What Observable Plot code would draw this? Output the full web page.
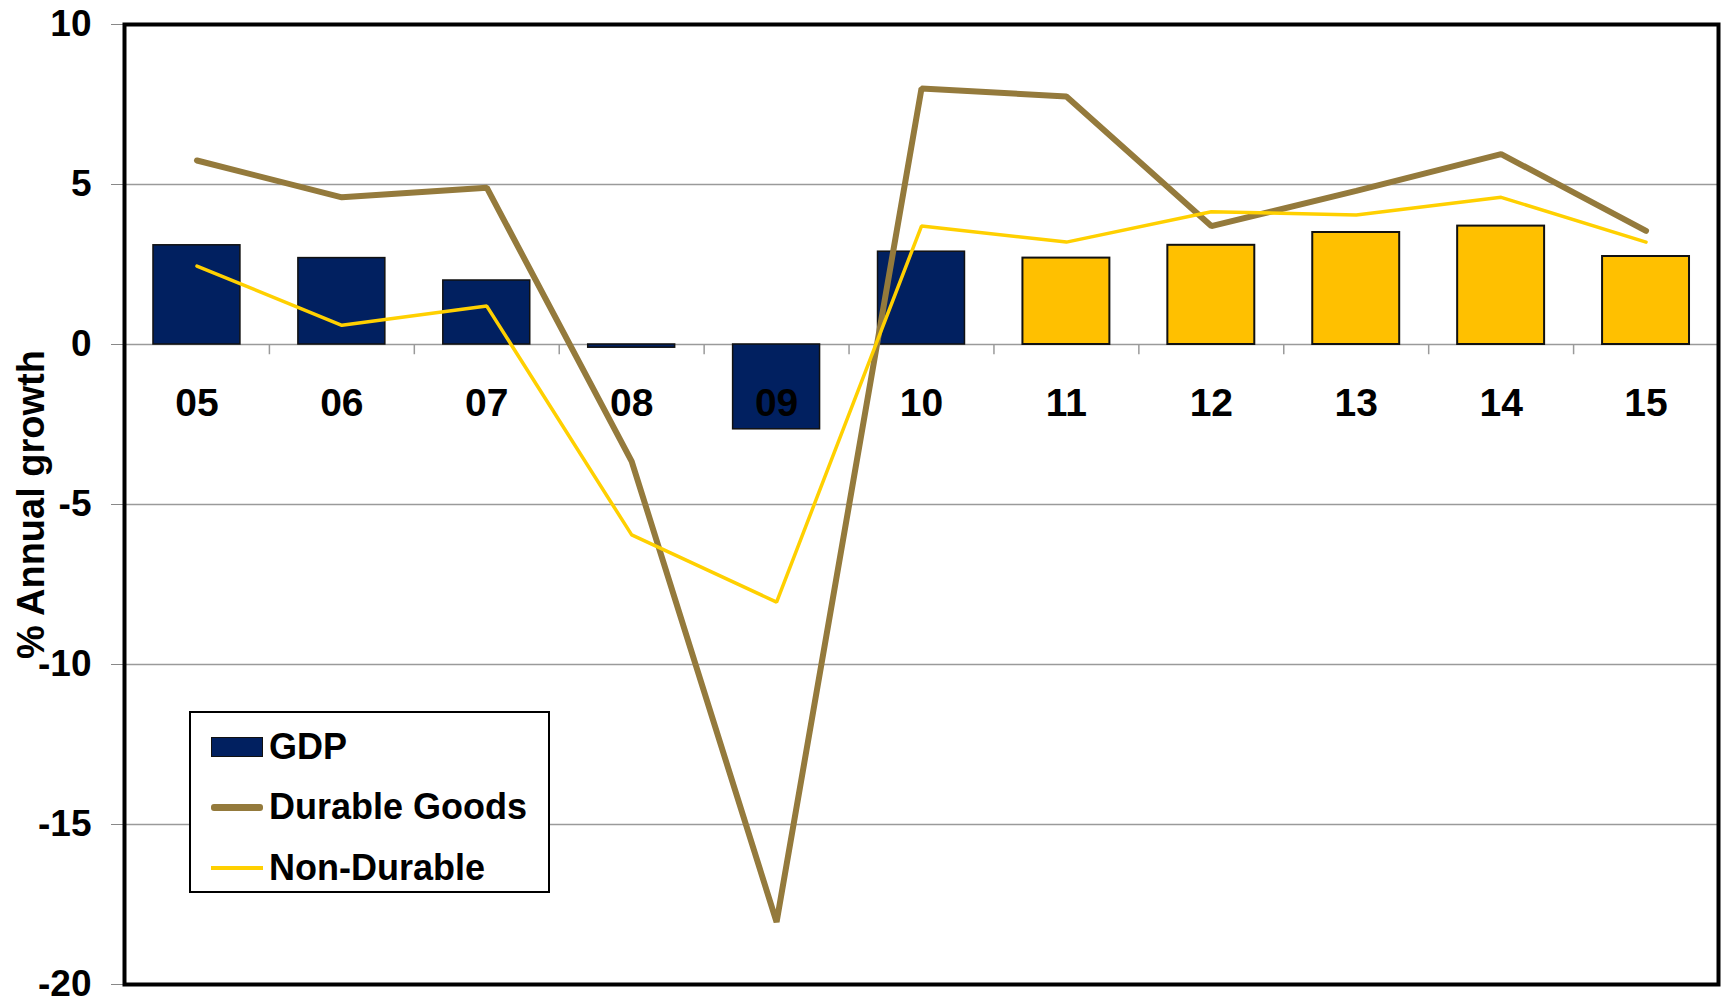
<!DOCTYPE html>
<html>
<head>
<meta charset="utf-8">
<script src="https://cdn.jsdelivr.net/npm/d3@7"></script>
<script src="https://cdn.jsdelivr.net/npm/@observablehq/plot@0.6"></script>
<style>
  body { margin: 0; background: #fff; font-family: "Liberation Sans", Arial, sans-serif; }
  #wrap { position: relative; width: 1723px; height: 1005px; }
  #wrap svg { position: absolute; left: 0; top: 0; }
  #legend { position: absolute; left: 189px; top: 711px; width: 357px; height: 178px;
            border: 2px solid #000; background: #fff; }
  .item { position: absolute; left: 20px; height: 60px; display: flex; align-items: center;
          font-weight: bold; font-size: 36px; color: #000; white-space: nowrap; }
  .sw { display: inline-block; width: 52px; margin-right: 6px; box-sizing: border-box; }
</style>
</head>
<body>
<div id="wrap"></div>
<script>
// ---- data ----
const years = ["05", "06", "07", "08", "09", "10", "11", "12", "13", "14", "15"];
const gdp = [3.1, 2.7, 2.0, -0.1, -2.65, 2.9, 2.7, 3.1, 3.5, 3.7, 2.75];
const durableGoods = [5.75, 4.6, 4.9, -3.65, -18.05, 8.0, 7.75, 3.7, 4.8, 5.95, 3.55];
const nonDurable = [2.45, 0.6, 1.2, -5.95, -8.05, 3.7, 3.2, 4.15, 4.05, 4.6, 3.2];
const forecastYears = ["11", "12", "13", "14", "15"];
const yTicks = [10, 5, 0, -5, -10, -15, -20];
const gridValues = [5, 0, -5, -10, -15];
const seriesNames = ["GDP", "Durable Goods", "Non-Durable"];
const yTitle = "% Annual growth";

// ---- styles ----
const NAVY = "#012060";
const GOLD = "#FFC000";
const BROWN = "#947A3C";
const YELLOW = "#FFD000";
const FONT = "'Liberation Sans', Arial, sans-serif";

const rows = years.map((year, i) => ({
  i, year, gdp: gdp[i], durable: durableGoods[i], nonDurable: nonDurable[i],
  forecast: forecastYears.includes(year)
}));
const boundaries = years.slice(1).map((_, i) => i + 0.5);

const chart = Plot.plot({
  width: 1723,
  height: 1005,
  marginLeft: 124,
  marginRight: 5,
  marginTop: 24,
  marginBottom: 21,
  style: { fontFamily: FONT, fontWeight: "bold", background: "#fff", color: "#000" },
  x: { type: "linear", domain: [-0.5, years.length - 0.5], axis: null },
  y: { domain: [-20, 10], axis: null },
  marks: [
    Plot.ruleY(gridValues, { stroke: "#9a9a9a", strokeWidth: 1.5 }),
    Plot.ruleX(boundaries, { x: d => d, y1: 0, y2: -0.32, stroke: "#9a9a9a", strokeWidth: 1.5 }),
    Plot.rectY(rows.filter(d => !d.forecast), {
      x1: d => d.i - 0.3, x2: d => d.i + 0.3, y1: 0, y2: "gdp",
      fill: NAVY, stroke: "#111", strokeWidth: 1.5
    }),
    Plot.rectY(rows.filter(d => d.forecast), {
      x1: d => d.i - 0.3, x2: d => d.i + 0.3, y1: 0, y2: "gdp",
      fill: GOLD, stroke: "#111", strokeWidth: 2
    }),
    Plot.text(rows, {
      x: "i", y: () => 0, dy: 59, text: "year",
      fontSize: 39, fontWeight: "bold", fill: "#000"
    }),
    Plot.line(rows, { x: "i", y: "durable", stroke: BROWN, strokeWidth: 6, strokeLinejoin: "miter" }),
    Plot.line(rows, { x: "i", y: "nonDurable", stroke: YELLOW, strokeWidth: 3.5, strokeLinejoin: "miter" }),
    Plot.axisY(yTicks, {
      tickSize: 13, tickPadding: 20, fontSize: 37, label: null,
      tickFormat: d => String(d), stroke: "#888", fill: "#000"
    }),
    Plot.frame({ stroke: "#000", strokeWidth: 4 }),
    Plot.text([yTitle], {
      frameAnchor: "left", textAnchor: "middle", dx: -93, rotate: -90,
      fontSize: 38, fontWeight: "bold", fill: "#000"
    })
  ]
});

const wrap = document.getElementById("wrap");
wrap.appendChild(chart);

// ---- legend (HTML overlay inside the plot frame) ----
const legend = document.createElement("div");
legend.id = "legend";
const swatches = [
  { h: 20, bg: NAVY, border: "1px solid #111" },
  { h: 7, bg: BROWN, border: "none", radius: "3px" },
  { h: 4, bg: YELLOW, border: "none" }
];
const tops = [4, 64, 125];
seriesNames.forEach((name, k) => {
  const item = document.createElement("div");
  item.className = "item";
  item.style.top = tops[k] + "px";
  const sw = document.createElement("span");
  sw.className = "sw";
  sw.style.height = swatches[k].h + "px";
  sw.style.background = swatches[k].bg;
  sw.style.border = swatches[k].border;
  if (swatches[k].radius) sw.style.borderRadius = swatches[k].radius;
  item.appendChild(sw);
  item.appendChild(document.createTextNode(name));
  legend.appendChild(item);
});
wrap.appendChild(legend);
</script>
</body>
</html>
